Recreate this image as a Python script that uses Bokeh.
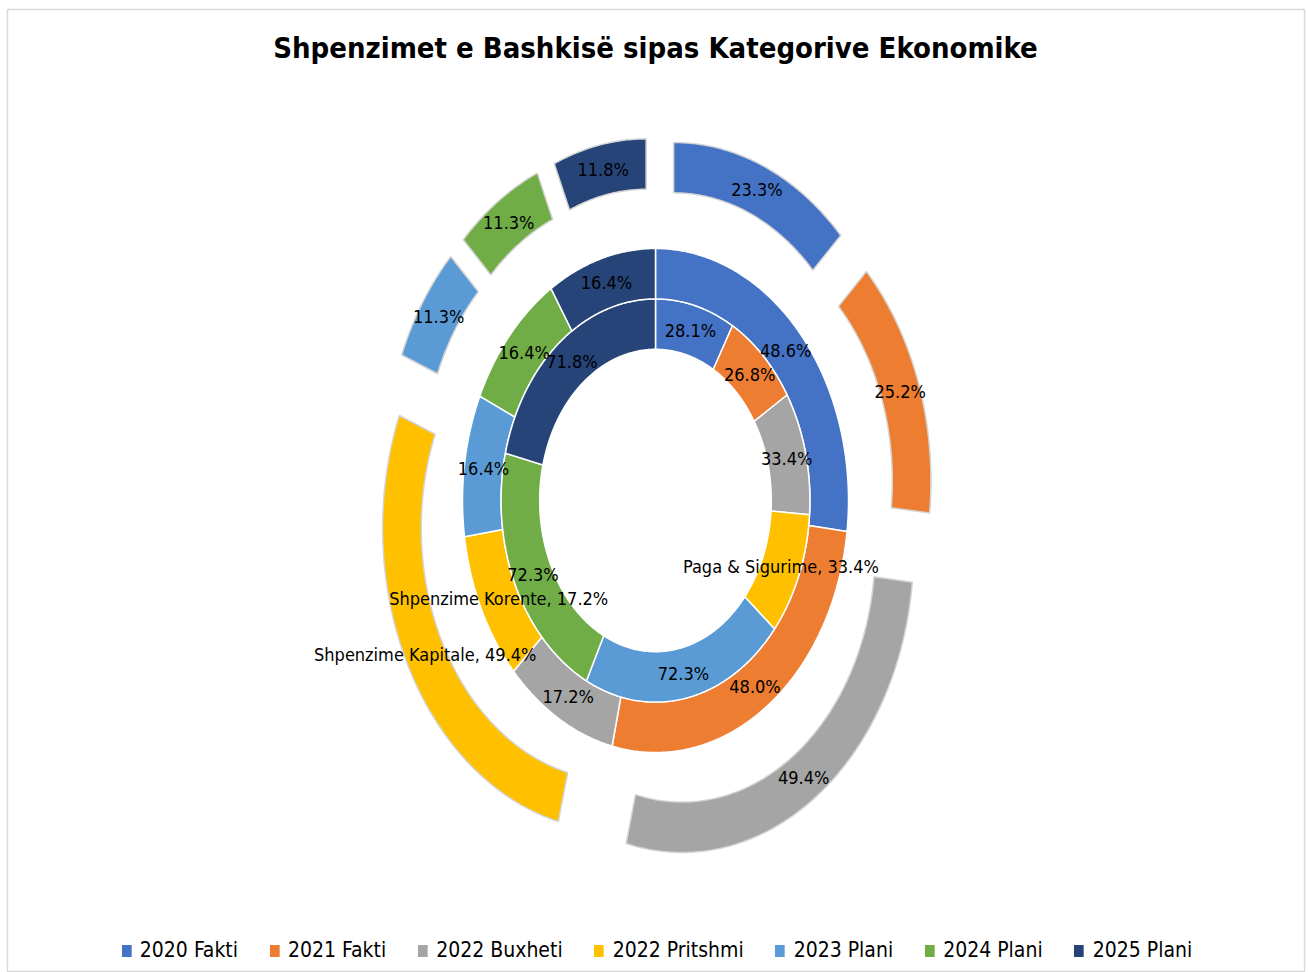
import math
from bokeh.plotting import figure
from bokeh.models import Range1d, Label, Legend, LegendItem, ColumnDataSource
from bokeh.core.properties import value
from bokeh.embed import file_html
from bokeh.resources import INLINE

# ---------------- data ----------------
title = "Shpenzimet e Bashkisë sipas Kategorive Ekonomike"
years = ["2020 Fakti", "2021 Fakti", "2022 Buxheti", "2022 Pritshmi",
         "2023 Plani", "2024 Plani", "2025 Plani"]
ring_names = ["Paga & Sigurime", "Shpenzime Korente", "Shpenzime Kapitale"]
paga = [28.1, 26.8, 33.4, 33.4, 72.3, 72.3, 71.8]
korente = [48.6, 48.0, 17.2, 17.2, 16.4, 16.4, 16.4]
kapitale = [23.3, 25.2, 49.4, 49.4, 11.3, 11.3, 11.8]
colors = ["#4472C4", "#ED7D31", "#A5A5A5", "#FFC000", "#5B9BD5", "#70AD47", "#264478"]
named_slice = 3  # slice whose label also shows the series name

# ---------------- geometry / style ----------------
rings = [paga, korente, kapitale]
HOLE = 0.6
RING_W = 0.2
EXPLODE = [0.0, 0.0, 0.24]
LINE_COL = ["white", "white", "#d4d4d4"]
FONT = "DejaVu Sans Condensed"

W, H = 1308, 972
CX, CY = 655, 500          # pixel centre of the donut
SX, SY = 193, 252          # pixels per unit (chart is stretched vertically)
BL, BR, BT, BB = 7, 4, 9, 0

p = figure(width=W, height=H, output_backend="svg", toolbar_location=None,
           x_axis_location=None, y_axis_location=None,
           x_range=Range1d((BL - CX) / SX, (W - BR - CX) / SX),
           y_range=Range1d((CY - (H - BB)) / SY, (CY - BT) / SY),
           min_border_left=BL, min_border_right=BR,
           min_border_top=BT, min_border_bottom=BB)
p.xgrid.visible = False
p.ygrid.visible = False
p.outline_line_color = "#d9d9d9"
p.outline_line_width = 1.5
p.background_fill_color = "white"
p.border_fill_color = "white"


def arc(r, a0, a1, ex, ey):
    n = max(2, int(abs(a1 - a0) * 2) + 1)
    pts = []
    for k in range(n):
        t = math.radians(a0 + (a1 - a0) * k / (n - 1))
        pts.append((ex + r * math.sin(t), ey + r * math.cos(t)))
    return pts


slice_xs = [[] for _ in years]
slice_ys = [[] for _ in years]
slice_lc = [[] for _ in years]
lab_x, lab_y, lab_t = [], [], []

for ri, ring in enumerate(rings):
    total = sum(ring)
    r_in = HOLE + ri * RING_W
    r_out = r_in + RING_W
    start = 0.0
    for si, v in enumerate(ring):
        span = v / total * 360.0
        a0, a1 = start, start + span
        mid = math.radians((a0 + a1) / 2)
        ex = EXPLODE[ri] * math.sin(mid)
        ey = EXPLODE[ri] * math.cos(mid)
        pts = arc(r_out, a0, a1, ex, ey) + arc(r_in, a1, a0, ex, ey)
        slice_xs[si].append([q[0] for q in pts])
        slice_ys[si].append([q[1] for q in pts])
        slice_lc[si].append(LINE_COL[ri])
        rm = (r_in + r_out) / 2
        lab_x.append(ex + rm * math.sin(mid))
        lab_y.append(ey + rm * math.cos(mid))
        txt = f"{v:.1f}%"
        if si == named_slice:
            txt = f"{ring_names[ri]}, {txt}"
        lab_t.append(txt)
        start = a1

renderers = []
for si in range(len(years)):
    src = ColumnDataSource(dict(xs=slice_xs[si], ys=slice_ys[si], lc=slice_lc[si]))
    r = p.patches("xs", "ys", source=src, fill_color=colors[si],
                  line_color="lc", line_width=1.5)
    renderers.append(r)

lab_src = ColumnDataSource(dict(x=lab_x, y=lab_y, text=lab_t))
p.text("x", "y", text="text", source=lab_src, text_font=value(FONT),
       text_font_size="18px", text_align="center", text_baseline="middle",
       text_color="black")

p.add_layout(Label(x=0, y=(CY - 47) / SY, text=title, text_align="center",
                   text_baseline="middle", text_font=FONT, text_font_style="bold",
                   text_font_size="29px", text_color="black"))

legend = Legend(items=[LegendItem(label=years[i], renderers=[renderers[i]])
                       for i in range(len(years))],
                orientation="horizontal", location="bottom_center",
                label_text_font=FONT, label_text_font_size="21px",
                label_text_color="black", glyph_width=14, glyph_height=17,
                label_standoff=7, spacing=29, padding=0, margin=10,
                border_line_color=None, background_fill_alpha=0)
p.add_layout(legend)

open("out.html", "w").write(file_html(p, INLINE))
